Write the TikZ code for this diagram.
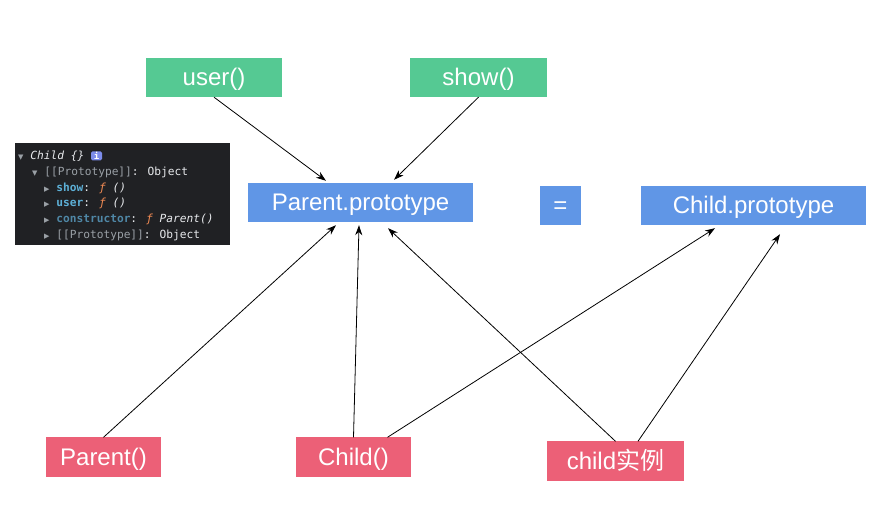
\documentclass[tikz,border=0pt]{standalone}
\usepackage{fontspec}
\usepackage{tikz}
\usetikzlibrary{arrows.meta,positioning}
\setmainfont{Liberation Sans}
\newfontfamily\cjkfont{Noto Sans CJK SC}
\newfontfamily\codefont{DejaVu Sans Mono}
\newfontfamily\symfont{DejaVu Sans}

\definecolor{jsgreen}{HTML}{55C993}
\definecolor{jsblue}{HTML}{6096E6}
\definecolor{jspink}{HTML}{EC6077}
\definecolor{panel}{HTML}{202124}
\definecolor{codetext}{HTML}{E8EAED}
\definecolor{propgrey}{HTML}{9AA0A6}
\definecolor{keyblue}{HTML}{5DB0D7}
\definecolor{keydim}{HTML}{4F87A6}
\definecolor{fnorange}{HTML}{F28B54}
\definecolor{badge}{HTML}{7C8CEB}

\newcommand{\opened}{{\symfont\fontsize{7}{8}\selectfont\color{propgrey}▼}}
\newcommand{\closed}{{\symfont\fontsize{7}{8}\selectfont\color{propgrey}▶}}

\tikzset{
  card/.style={inner sep=0pt, minimum height=39pt, text=white,
    text height=17pt, text depth=0pt,
    font=\fontsize{24}{28}\selectfont},
  method/.style={card, fill=jsgreen},
  proto/.style={card, fill=jsblue},
  ctor/.style={card, fill=jspink},
  codeline/.style={anchor=base west, inner sep=0pt, text=codetext,
    font=\codefont\fontsize{11.2}{13}\selectfont},
  link/.style={-{Stealth[length=10pt,width=7pt]}, line width=0.8pt},
}

\begin{document}
\begin{tikzpicture}[x=1pt,y=-1pt]
\useasboundingbox (0,0) rectangle (887,521);

\node[method, minimum width=136pt] (user) at (214,77.5) {user()};
\node[method, minimum width=137pt] (show) at (478.5,77.5) {show()};
\node[proto, minimum width=225pt] (parproto) at (360.5,202.5) {Parent.prototype};
\node[proto, minimum width=41pt] (equals) at (560.5,205.5) {=};
\node[proto, minimum width=225pt] (chproto) at (753.5,205.5) {Child.prototype};
\node[ctor, minimum width=115pt] (parent) at (103.5,457) {Parent()};
\node[ctor, minimum width=115pt] (child) at (353.5,457) {Child()};
\node[ctor, minimum width=137pt] (inst) at (615.5,461) {child{\cjkfont 实例}};

\node[fill=panel, inner sep=0pt, minimum width=215pt, minimum height=102pt] (console) at (122.5,194) {};
\node[codeline] (l1) at (18,160) {\opened{} \textit{Child \{\}}};
\node[fill=badge, text=white, rounded corners=1.5pt, inner sep=0pt,
  minimum width=11pt, minimum height=9pt,
  font=\codefont\bfseries\fontsize{9}{10}\selectfont] (info) at (96.5,156) {i};
\node[codeline] (l2) at (32,176) {\opened{} {\color{propgrey}[[Prototype]]}: Object};
\node[codeline] (l3) at (44,191.5) {\closed{} {\bfseries\color{keyblue}show}: {\color{fnorange}\itshape ƒ} \textit{()}};
\node[codeline] (l4) at (44,207) {\closed{} {\bfseries\color{keyblue}user}: {\color{fnorange}\itshape ƒ} \textit{()}};
\node[codeline] (l5) at (44,223) {\closed{} {\bfseries\color{keydim}constructor}: {\color{fnorange}\itshape ƒ} \textit{Parent()}};
\node[codeline] (l6) at (44,238.5) {\closed{} {\color{propgrey}[[Prototype]]}: Object};

\draw[link] (user.south) -- ([xshift=-34.5pt,yshift=2pt]parproto.north);
\draw[link] (show.south) -- ([xshift=33.5pt,yshift=3pt]parproto.north);
\draw[link] (parent.north) -- ([xshift=-24.5pt,yshift=-3pt]parproto.south);
\draw[link] (child.north) -- ([xshift=-1.5pt,yshift=-3pt]parproto.south);
\draw[link] (inst.north) -- ([xshift=27.5pt,yshift=-6pt]parproto.south);
\draw[link] ([xshift=34pt]child.north) -- ([xshift=-38.5pt,yshift=-3pt]chproto.south);
\draw[link] ([xshift=22.5pt]inst.north) -- ([xshift=26.5pt,yshift=-9pt]chproto.south);
\end{tikzpicture}
\end{document}
